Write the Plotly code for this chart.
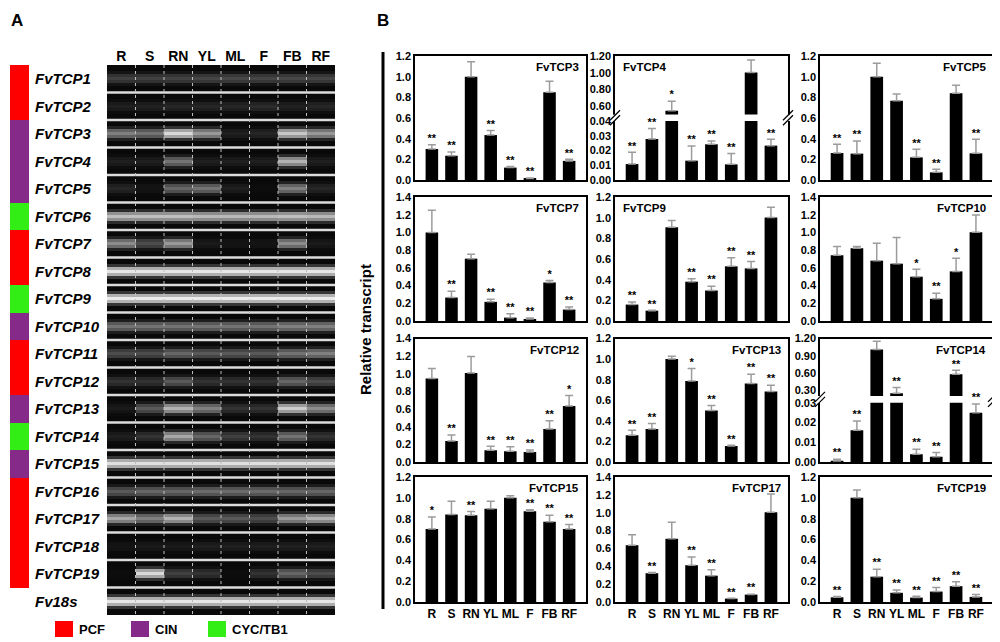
import numpy as np
import plotly.graph_objects as go

W, H = 1000, 642
OX, OY = 8, 8  # page body margin of the html output
FONT = "Liberation Sans, Arial, sans-serif"


def px(x):
    return (x - OX) / W


def py(y):
    return 1 - (y - OY) / H


# ---------------- data ----------------
tissues = ["R", "S", "RN", "YL", "ML", "F", "FB", "RF"]

genes = ["FvTCP1", "FvTCP2", "FvTCP3", "FvTCP4", "FvTCP5", "FvTCP6", "FvTCP7",
         "FvTCP8", "FvTCP9", "FvTCP10", "FvTCP11", "FvTCP12", "FvTCP13",
         "FvTCP14", "FvTCP15", "FvTCP16", "FvTCP17", "FvTCP18", "FvTCP19", "Fv18s"]

# subfamily of FvTCP1..FvTCP19 (colour bar)
gene_groups = ["PCF", "PCF", "CIN", "CIN", "CIN", "CYC/TB1", "PCF", "PCF", "CYC/TB1",
               "CIN", "PCF", "PCF", "CIN", "CYC/TB1", "CIN", "PCF", "PCF", "PCF", "PCF"]
group_names = ["PCF", "CIN", "CYC/TB1"]
group_colors = ["#ff0000", "#862a8a", "#33ee14"]

# semi-quantitative RT-PCR band brightness (0 = none, 1 = saturated), lanes R..RF
band = [
    [0.25, 0.25, 0.26, 0.27, 0.28, 0.27, 0.28, 0.27],
    [0.12, 0.13, 0.15, 0.15, 0.15, 0.17, 0.13, 0.15],
    [0.50, 0.45, 0.85, 0.60, 0.12, 0.15, 0.78, 0.60],
    [0.12, 0.12, 0.45, 0.12, 0.12, 0.12, 0.70, 0.12],
    [0.15, 0.08, 0.40, 0.45, 0.12, 0.05, 0.50, 0.15],
    [0.75, 0.75, 0.75, 0.72, 0.72, 0.72, 0.75, 0.72],
    [0.55, 0.30, 0.60, 0.10, 0.08, 0.08, 0.55, 0.10],
    [0.90, 0.90, 0.90, 0.90, 0.90, 0.90, 0.90, 0.90],
    [0.92, 0.92, 0.92, 0.92, 0.92, 0.92, 0.92, 0.92],
    [0.45, 0.45, 0.45, 0.45, 0.45, 0.45, 0.50, 0.50],
    [0.30, 0.30, 0.40, 0.35, 0.35, 0.35, 0.45, 0.50],
    [0.20, 0.20, 0.35, 0.20, 0.20, 0.20, 0.40, 0.30],
    [0.10, 0.35, 0.70, 0.50, 0.20, 0.20, 0.80, 0.55],
    [0.12, 0.20, 0.65, 0.40, 0.25, 0.20, 0.45, 0.20],
    [0.88, 0.88, 0.88, 0.88, 0.88, 0.88, 0.88, 0.88],
    [0.35, 0.40, 0.40, 0.42, 0.42, 0.42, 0.40, 0.40],
    [0.65, 0.50, 0.70, 0.35, 0.35, 0.30, 0.60, 0.70],
    [0.08, 0.10, 0.10, 0.12, 0.12, 0.12, 0.12, 0.12],
    [0.05, 0.85, 0.25, 0.20, 0.05, 0.20, 0.40, 0.30],
    [0.90, 0.90, 0.90, 0.90, 0.90, 0.90, 0.90, 0.90],
]

# qRT-PCR relative transcript: mean, SD, significance
tcp3_mean = [0.30, 0.235, 1.00, 0.435, 0.12, 0.015, 0.85, 0.185]
tcp3_sd = [0.04, 0.035, 0.145, 0.045, 0.01, 0.005, 0.105, 0.015]
tcp3_sig = ["**", "**", "", "**", "**", "**", "", "**"]

tcp4_mean = [0.0108, 0.0278, 0.544, 0.0131, 0.0242, 0.0106, 1.004, 0.0233]
tcp4_sd = [0.008, 0.0072, 0.116, 0.0099, 0.0022, 0.0074, 0.148, 0.0043]
tcp4_sig = ["**", "**", "*", "**", "**", "**", "", "**"]

tcp5_mean = [0.261, 0.255, 1.00, 0.768, 0.219, 0.074, 0.839, 0.258]
tcp5_sd = [0.084, 0.122, 0.13, 0.064, 0.078, 0.029, 0.077, 0.136]
tcp5_sig = ["**", "**", "", "", "**", "**", "", "**"]

tcp7_mean = [1.00, 0.265, 0.704, 0.216, 0.038, 0.023, 0.435, 0.129]
tcp7_sd = [0.25, 0.072, 0.049, 0.03, 0.045, 0.011, 0.023, 0.03]
tcp7_sig = ["", "**", "", "**", "**", "**", "*", "**"]

tcp9_mean = [0.159, 0.10, 0.908, 0.38, 0.295, 0.529, 0.509, 1.002]
tcp9_sd = [0.026, 0.004, 0.065, 0.03, 0.042, 0.084, 0.068, 0.098]
tcp9_sig = ["**", "**", "", "**", "**", "**", "**", ""]

tcp10_mean = [0.742, 0.821, 0.681, 0.647, 0.50, 0.25, 0.56, 1.003]
tcp10_sd = [0.098, 0.019, 0.197, 0.295, 0.083, 0.064, 0.148, 0.193]
tcp10_sig = ["", "", "", "", "*", "**", "*", ""]

tcp12_mean = [0.946, 0.238, 1.01, 0.132, 0.121, 0.114, 0.375, 0.636]
tcp12_sd = [0.113, 0.068, 0.186, 0.046, 0.053, 0.022, 0.094, 0.117]
tcp12_sig = ["", "**", "", "**", "**", "**", "**", "*"]

tcp13_mean = [0.259, 0.321, 1.002, 0.788, 0.50, 0.156, 0.762, 0.684]
tcp13_sd = [0.049, 0.052, 0.026, 0.12, 0.048, 0.006, 0.091, 0.062]
tcp13_sig = ["**", "**", "", "*", "**", "**", "**", "**"]

tcp14_mean = [0.0005, 0.016, 1.008, 0.248, 0.0039, 0.0026, 0.577, 0.0249]
tcp14_sd = [0.0009, 0.0047, 0.146, 0.098, 0.0026, 0.0022, 0.069, 0.0044]
tcp14_sig = ["**", "**", "", "**", "**", "**", "**", "**"]

tcp15_mean = [0.70, 0.84, 0.834, 0.895, 1.002, 0.87, 0.77, 0.70]
tcp15_sd = [0.117, 0.127, 0.035, 0.072, 0.018, 0.015, 0.063, 0.043]
tcp15_sig = ["*", "", "**", "", "", "**", "**", "**"]

tcp17_mean = [0.636, 0.322, 0.708, 0.412, 0.295, 0.038, 0.083, 1.006]
tcp17_sd = [0.117, 0.008, 0.185, 0.091, 0.065, 0.004, 0.004, 0.204]
tcp17_sig = ["", "**", "", "**", "**", "**", "**", ""]

tcp19_mean = [0.045, 1.002, 0.243, 0.088, 0.042, 0.10, 0.152, 0.049]
tcp19_sd = [0.007, 0.072, 0.072, 0.026, 0.013, 0.04, 0.043, 0.022]
tcp19_sig = ["**", "", "**", "**", "**", "**", "**", "**"]

# ---------------- figure ----------------
fig = go.Figure()
layout = {}
shapes = []
annotations = []
n_axes = [0]


def add_axes(xcfg, ycfg):
    n_axes[0] += 1
    s = "" if n_axes[0] == 1 else str(n_axes[0])
    xr, yr = "x" + s, "y" + s
    layout["xaxis" + s] = dict(xcfg, anchor=yr, automargin=False)
    layout["yaxis" + s] = dict(ycfg, anchor=xr, automargin=False)
    return xr, yr


# ----- panel A: gel -----
profile = [0.0, 0.0, 0.2, 0.75, 1.0, 0.75, 0.2, 0.0, 0.0]
bg = 0.035
band_arr = np.array(band)
z_gel = np.vstack([bg + (band_arr[i] - bg) * p for i in range(len(genes)) for p in profile])
y_gel = [i + (j + 0.5) / len(profile) for i in range(len(genes)) for j in range(len(profile))]

gel_y = dict(domain=[py(615), py(65)], range=[len(genes), 0], showticklabels=False,
             showgrid=False, zeroline=False, showline=False, ticks="")
xg, yg = add_axes(dict(domain=[px(107), px(335)], range=[-0.5, 7.5], side="top",
                       tickvals=list(range(len(tissues))), ticktext=tissues, ticks="",
                       showgrid=False, zeroline=False, showline=False,
                       tickfont=dict(size=14, family=FONT, color="black", weight="bold")),
                  gel_y)
fig.add_trace(go.Heatmap(z=z_gel, x=list(range(len(tissues))), y=y_gel, colorscale=[[0, "black"], [1, "white"]],
                         zmin=0, zmax=1, showscale=False, xaxis=xg, yaxis=yg, hoverinfo="skip"))

for i in range(1, len(genes)):
    shapes.append(dict(type="line", xref=xg, yref=yg, x0=-0.5, x1=7.5, y0=i, y1=i,
                       line=dict(color="#dcdcdc", width=2.5)))
for k in range(1, len(tissues)):
    shapes.append(dict(type="line", xref=xg, yref=yg, x0=k - 0.5, x1=k - 0.5, y0=0, y1=len(genes),
                       line=dict(color="#bdbdbd", width=1, dash="dot")))

# colour bar of subfamilies
xc, yc = add_axes(dict(domain=[px(10), px(29)], range=[-0.5, 0.5], visible=False),
                  dict(gel_y))
codes = [[group_names.index(g)] for g in gene_groups]
cs = [[0, group_colors[0]], [1 / 3, group_colors[0]], [1 / 3, group_colors[1]],
      [2 / 3, group_colors[1]], [2 / 3, group_colors[2]], [1, group_colors[2]]]
fig.add_trace(go.Heatmap(z=codes, x=[0], y=[i + 0.5 for i in range(len(gene_groups))], colorscale=cs,
                         zmin=-0.5, zmax=2.5, showscale=False, xaxis=xc, yaxis=yc, hoverinfo="skip"))

for i, g in enumerate(genes):
    annotations.append(dict(x=px(33), xref="paper", y=i + 0.5, yref=yg, text="<i>" + g + "</i>",
                            showarrow=False, xanchor="left", yanchor="middle",
                            font=dict(size=15, family=FONT, color="black", weight="bold")))

# legend
legend_x = [55, 131, 208]
for name, col, lx in zip(group_names, group_colors, legend_x):
    shapes.append(dict(type="rect", xref="paper", yref="paper", x0=px(lx), x1=px(lx + 18),
                       y0=py(637), y1=py(621), fillcolor=col, line=dict(width=0)))
    annotations.append(dict(x=px(lx + 22), xref="paper", y=py(629), yref="paper", text=name,
                            showarrow=False, xanchor="left", yanchor="middle",
                            font=dict(size=13, family=FONT, color="black", weight="bold")))

# ----- panel B: bar charts -----
cols = [(415, 586), (615, 788), (820, 993)]
rows = [(56, 180), (197, 321), (338.5, 462), (477, 602)]

panels = [
    ("FvTCP3", tcp3_mean, tcp3_sd, tcp3_sig, 0, 0, 1.2, "right", None),
    ("FvTCP4", tcp4_mean, tcp4_sd, tcp4_sig, 0, 1, None, "left",
     dict(low=[0, 0.04], low_ticks=[0, 0.01, 0.02, 0.03, 0.04], high=[0.5, 1.2],
          high_ticks=[0.6, 0.8, 1.0, 1.2], split=(114.5, 121))),
    ("FvTCP5", tcp5_mean, tcp5_sd, tcp5_sig, 0, 2, 1.2, "right", None),
    ("FvTCP7", tcp7_mean, tcp7_sd, tcp7_sig, 1, 0, 1.4, "right", None),
    ("FvTCP9", tcp9_mean, tcp9_sd, tcp9_sig, 1, 1, 1.2, "left", None),
    ("FvTCP10", tcp10_mean, tcp10_sd, tcp10_sig, 1, 2, 1.4, "right", None),
    ("FvTCP12", tcp12_mean, tcp12_sd, tcp12_sig, 2, 0, 1.4, "right", None),
    ("FvTCP13", tcp13_mean, tcp13_sd, tcp13_sig, 2, 1, 1.2, "right", None),
    ("FvTCP14", tcp14_mean, tcp14_sd, tcp14_sig, 2, 2, None, "right",
     dict(low=[0, 0.03], low_ticks=[0, 0.01, 0.02, 0.03], high=[0.2, 1.2],
          high_ticks=[0.3, 0.6, 0.9, 1.2], split=(396, 402.7))),
    ("FvTCP15", tcp15_mean, tcp15_sd, tcp15_sig, 3, 0, 1.2, "right", None),
    ("FvTCP17", tcp17_mean, tcp17_sd, tcp17_sig, 3, 1, 1.4, "right", None),
    ("FvTCP19", tcp19_mean, tcp19_sd, tcp19_sig, 3, 2, 1.2, "right", None),
]

tick_font = dict(size=11, family=FONT, color="black", weight="bold")
line_style = dict(showline=True, linecolor="black", linewidth=1.5, showgrid=False,
                  zeroline=False, ticks="")


def bar_traces(mean, sd, sig, xr, yr, seg=None):
    fig.add_trace(go.Bar(x=tissues, y=mean, width=0.64, marker=dict(color="black", line=dict(width=0)),
                         error_y=dict(type="data", symmetric=False, array=sd, arrayminus=[0] * len(sd),
                                      color="#9c9c9c", thickness=1.5, width=4),
                         xaxis=xr, yaxis=yr, showlegend=False, hoverinfo="skip"))
    tops = [m + s for m, s in zip(mean, sd)]
    keep = [i for i in range(len(tops)) if sig[i] and (seg is None or seg[0] <= tops[i] <= seg[1])]
    if keep:
        fig.add_trace(go.Scatter(x=[tissues[i] for i in keep], y=[tops[i] for i in keep],
                                 text=[sig[i] for i in keep], mode="text", textposition="top center",
                                 textfont=dict(size=11, family=FONT, color="black", weight="bold"),
                                 cliponaxis=False, xaxis=xr, yaxis=yr, showlegend=False, hoverinfo="skip"))


def break_mark(x, yc):
    shapes.append(dict(type="rect", xref="paper", yref="paper", x0=px(x - 3), x1=px(x + 3),
                       y0=py(yc + 3), y1=py(yc - 3), fillcolor="white", line=dict(width=0)))
    for d in (-2.5, 2.5):
        shapes.append(dict(type="line", xref="paper", yref="paper", x0=px(x - 5), x1=px(x + 5),
                           y0=py(yc + d + 5), y1=py(yc + d - 5), line=dict(color="black", width=1.3)))


for name, mean, sd, sig, r, c, ymax, tpos, brk in panels:
    x0, x1 = cols[c]
    y0, y1 = rows[r]
    show_x = r == len(rows) - 1
    xbase = dict(line_style, domain=[px(x0), px(x1)], range=[-0.86, 7.86], type="category",
                 showticklabels=show_x, tickfont=dict(tick_font, size=12))
    if brk is None:
        xr, yr = add_axes(dict(xbase, mirror=True),
                          dict(line_style, domain=[py(y1), py(y0)], range=[0, ymax], dtick=0.2,
                               tickformat=".1f", mirror=True, tickfont=tick_font))
        bar_traces(mean, sd, sig, xr, yr)
    else:
        s0, s1 = brk["split"]
        xr, yr = add_axes(dict(xbase, mirror=False, side="top", showticklabels=False),
                          dict(line_style, domain=[py(s0), py(y0)], range=brk["high"],
                               tickvals=brk["high_ticks"], tickformat=".2f", mirror=True,
                               tickfont=tick_font))
        bar_traces(mean, sd, sig, xr, yr, seg=(brk["low"][1], 10))
        xr2, yr2 = add_axes(dict(xbase, mirror=False),
                            dict(line_style, domain=[py(y1), py(s1)], range=brk["low"],
                                 tickvals=brk["low_ticks"], tickformat=".2f", mirror=True,
                                 tickfont=tick_font))
        bar_traces(mean, sd, sig, xr2, yr2, seg=(-1, brk["low"][1]))
        ymid = (s0 + s1) / 2
        break_mark(x0, ymid)
        break_mark(x1, ymid)
    if tpos == "right":
        annotations.append(dict(x=px(x1 - 5), y=py(y0 + 3), xref="paper", yref="paper", text=name,
                                xanchor="right", yanchor="top", showarrow=False,
                                font=dict(size=11.5, family=FONT, color="black", weight="bold")))
    else:
        annotations.append(dict(x=px(x0 + 6), y=py(y0 + 3), xref="paper", yref="paper", text=name,
                                xanchor="left", yanchor="top", showarrow=False,
                                font=dict(size=11.5, family=FONT, color="black", weight="bold")))

# y-axis bracket and title for panel B
shapes.append(dict(type="line", xref="paper", yref="paper", x0=px(383), x1=px(383), y0=py(52), y1=py(609),
                   line=dict(color="black", width=3)))
annotations.append(dict(x=px(366), y=py(330), xref="paper", yref="paper", text="Relative transcript",
                        textangle=-90, showarrow=False, xanchor="center", yanchor="middle",
                        font=dict(size=15, family=FONT, color="black", weight="bold")))

# panel letters, as high as the page allows
for letter, lx in (("A", 17), ("B", 383)):
    annotations.append(dict(x=px(lx), y=py(OY + 1), xref="paper", yref="paper", text=letter, showarrow=False,
                            xanchor="center", yanchor="top",
                            font=dict(size=17, family=FONT, color="black", weight="bold")))

fig.update_layout(layout)
fig.update_layout(width=W, height=H, margin=dict(l=0, r=0, t=0, b=0, autoexpand=False),
                  plot_bgcolor="white", paper_bgcolor="white", shapes=shapes, annotations=annotations,
                  showlegend=False)

fig.write_html("out.html")
